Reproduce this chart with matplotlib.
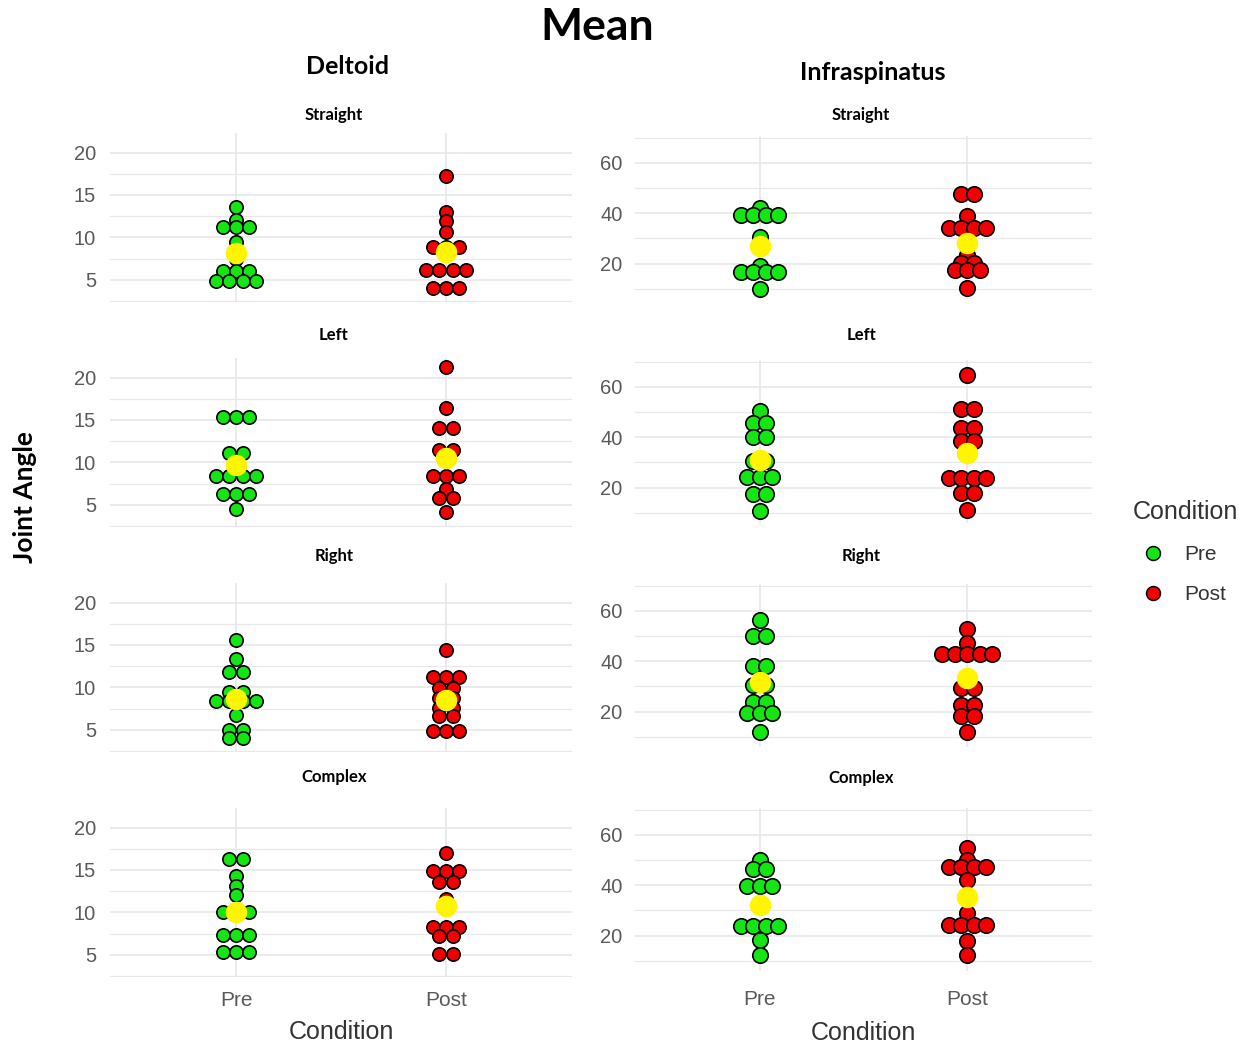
import numpy as np
import matplotlib.pyplot as plt
from matplotlib.lines import Line2D

conditions = ["Pre", "Post"]
movements = ["Straight", "Left", "Right", "Complex"]
muscles = ["Deltoid", "Infraspinatus"]

# joint angle per subject, one list per muscle / movement / condition
deltoid_straight_pre = [13.6, 12.1, 11.2, 11.2, 11.2, 9.5, 7.5, 6.0, 6.0, 6.0, 4.9, 4.9, 4.9, 4.9]
deltoid_straight_post = [17.2, 13.0, 11.9, 10.6, 8.9, 8.9, 8.9, 6.2, 6.2, 6.2, 6.2, 4.1, 4.1, 4.1]
deltoid_left_pre = [15.4, 15.4, 15.4, 11.1, 11.1, 8.4, 8.4, 8.4, 8.4, 6.3, 6.3, 6.3, 4.5]
deltoid_left_post = [21.2, 16.4, 14.0, 14.0, 11.5, 11.5, 8.4, 8.4, 8.4, 6.9, 5.8, 5.8, 4.2]
deltoid_right_pre = [15.6, 13.4, 11.8, 11.8, 9.5, 9.5, 8.4, 8.4, 8.4, 8.4, 6.7, 5.0, 5.0, 4.1, 4.1]
deltoid_right_post = [14.4, 11.2, 11.2, 11.2, 9.9, 9.9, 8.7, 8.7, 7.6, 7.6, 6.6, 6.6, 4.9, 4.9, 4.9]
deltoid_complex_pre = [16.3, 16.3, 14.3, 13.1, 12.1, 10.1, 10.1, 10.1, 7.4, 7.4, 7.4, 5.3, 5.3, 5.3]
deltoid_complex_post = [17.0, 14.9, 14.9, 14.9, 13.6, 13.6, 11.6, 8.3, 8.3, 8.3, 7.2, 7.2, 5.1, 5.1]

infra_straight_pre = [42.2, 39.3, 39.3, 39.3, 39.3, 30.4, 19.0, 16.8, 16.8, 16.8, 16.8, 9.8]
infra_straight_post = [47.5, 47.5, 39.0, 34.1, 34.1, 34.1, 34.1, 23.6, 20.3, 20.3, 17.4, 17.4, 17.4, 10.2]
infra_left_pre = [50.3, 45.5, 45.5, 40.0, 40.0, 30.5, 30.5, 24.2, 24.2, 24.2, 17.6, 17.6, 10.6]
infra_left_post = [64.7, 51.1, 51.1, 43.5, 43.5, 38.6, 38.6, 23.7, 23.7, 23.7, 23.7, 18.0, 18.0, 11.1]
infra_right_pre = [56.4, 49.9, 49.9, 38.0, 38.0, 30.5, 30.5, 23.8, 23.8, 19.6, 19.6, 19.6, 12.1]
infra_right_post = [52.9, 47.2, 42.9, 42.9, 42.9, 42.9, 42.9, 29.5, 29.5, 22.6, 22.6, 18.3, 18.3, 12.1]
infra_complex_pre = [49.9, 46.6, 46.6, 39.6, 39.6, 39.6, 23.8, 23.8, 23.8, 23.8, 18.2, 12.3]
infra_complex_post = [54.9, 49.9, 47.3, 47.3, 47.3, 47.3, 42.0, 29.0, 24.4, 24.4, 24.4, 24.4, 17.8, 12.3]

data = {
    "Deltoid": {
        "Straight": (deltoid_straight_pre, deltoid_straight_post),
        "Left": (deltoid_left_pre, deltoid_left_post),
        "Right": (deltoid_right_pre, deltoid_right_post),
        "Complex": (deltoid_complex_pre, deltoid_complex_post),
    },
    "Infraspinatus": {
        "Straight": (infra_straight_pre, infra_straight_post),
        "Left": (infra_left_pre, infra_left_post),
        "Right": (infra_right_pre, infra_right_post),
        "Complex": (infra_complex_pre, infra_complex_post),
    },
}

fill = {"Pre": "#14E614", "Post": "#F00000"}
mean_colour = "#FFF500"
grid_colour = "#E8E8E8"
tick_colour = "#5A5A5A"
text_colour = "#333333"
title_font = "Lato"
body_font = "Liberation Sans"

# panel geometry in pixels, one column per muscle
layout = {
    "Deltoid": dict(left=110, right=572, tops=[133, 358, 583, 808], height=169,
                    ylim=(2.4, 22.3), major=[5, 10, 15, 20], minor=[2.5, 7.5, 12.5, 17.5],
                    dot=92, step=0.064, ypad=10, xpad=10, xlabelpad=7,
                    strip_x=334, strip_y=[115, 335, 556, 777], head=(347, 67)),
    "Infraspinatus": dict(left=635, right=1092, tops=[136, 360, 584, 808], height=163,
                          ylim=(6, 70.6), major=[20, 40, 60], minor=[10, 30, 50, 70],
                          dot=124, step=0.06, ypad=9, xpad=14, xlabelpad=8,
                          strip_x=861, strip_y=[115, 335, 556, 778], head=(873, 72)),
}

W, H = 1250, 1046
fig = plt.figure(figsize=(W / 100, H / 100), dpi=100)


def px_axes(left, top, right, bottom):
    return fig.add_axes([left / W, 1 - bottom / H, (right - left) / W, (bottom - top) / H])


def stack_offsets(values, step):
    # dots with equal value sit side by side, centred on the category
    vals = np.asarray(values, dtype=float)
    offs = np.zeros(len(vals))
    for v in np.unique(vals):
        idx = np.where(vals == v)[0]
        offs[idx] = (np.arange(len(idx)) - (len(idx) - 1) / 2) * step
    return offs


for muscle in muscles:
    cfg = layout[muscle]
    for row, movement in enumerate(movements):
        top = cfg["tops"][row]
        ax = px_axes(cfg["left"], top, cfg["right"], top + cfg["height"])
        ax.set_xlim(0.4, 2.6)
        ax.set_ylim(*cfg["ylim"])
        ax.set_xticks([1, 2])
        ax.set_yticks(cfg["major"])
        ax.set_yticks(cfg["minor"], minor=True)
        ax.grid(which="major", color=grid_colour, lw=1.2)
        ax.grid(which="minor", axis="y", color=grid_colour, lw=0.9)
        ax.set_axisbelow(True)
        for s in ax.spines.values():
            s.set_visible(False)
        ax.tick_params(which="both", length=0)
        ax.tick_params(axis="y", pad=cfg["ypad"], labelsize=14.5, labelcolor=tick_colour)
        for lab in ax.get_yticklabels():
            lab.set_fontfamily(body_font)

        for i, cond in enumerate(conditions):
            vals = data[muscle][movement][i]
            x = i + 1 + stack_offsets(vals, cfg["step"])
            ax.scatter(x, vals, s=cfg["dot"], c=fill[cond], edgecolors="black",
                       linewidths=1.2, zorder=3)
            ax.scatter([i + 1], [np.mean(vals)], s=240, c=mean_colour,
                       linewidths=0, zorder=4)

        if row == len(movements) - 1:
            ax.set_xticklabels(conditions, fontfamily=body_font, fontsize=15,
                               color=tick_colour)
            ax.tick_params(axis="x", pad=cfg["xpad"])
            ax.set_xlabel("Condition", fontfamily=body_font, fontsize=18,
                          color=text_colour, labelpad=cfg["xlabelpad"])
        else:
            ax.set_xticklabels([])

        fig.text(cfg["strip_x"] / W, 1 - cfg["strip_y"][row] / H, movement,
                 fontfamily=title_font, fontweight="bold", fontsize=12,
                 ha="center", va="center", color="black")

    hx, hy = cfg["head"]
    fig.text(hx / W, 1 - hy / H, muscle, fontfamily=title_font, fontweight="bold",
             fontsize=18, ha="center", va="center", color="black")

fig.text(597 / W, 1 - 27 / H, "Mean", fontfamily=title_font, fontweight="bold",
         fontsize=32, ha="center", va="center", color="black")
fig.text(25 / W, 1 - 497 / H, "Joint Angle", fontfamily=title_font, fontweight="bold",
         fontsize=19, rotation=90, ha="center", va="center", color="black")

handles = [Line2D([], [], ls="", marker="o", markersize=10, markerfacecolor=fill[c],
                  markeredgecolor="black", markeredgewidth=1.1) for c in conditions]
leg = fig.legend(handles, conditions, title="Condition", loc="upper left",
                 bbox_to_anchor=(1124 / W, 1 - 492 / H), frameon=False,
                 alignment="left", handletextpad=0.5, labelspacing=1.0,
                 borderaxespad=0, prop={"family": body_font, "size": 15},
                 title_fontproperties={"family": body_font, "size": 18})
for t in leg.get_texts():
    t.set_color(text_colour)
leg.get_title().set_color(text_colour)

fig.savefig("out.png", dpi=100, facecolor="white")
